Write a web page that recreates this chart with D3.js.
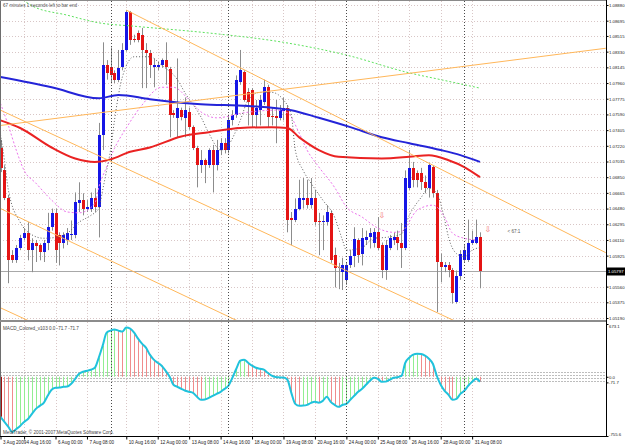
<!DOCTYPE html>
<html>
<head>
<meta charset="utf-8">
<script src="https://cdn.jsdelivr.net/npm/d3@7"></script>
<style>
  body { margin: 0; background: #fff; }
  svg { display: block; font-family: "Liberation Sans", Arial, sans-serif; }
</style>
</head>
<body>
<div id="chart"></div>
<script>
// H4 bars, 3 Aug - 31 Aug 2009 : [open, high, low, close]
const ohlc = [
  [1.0719,1.0729,1.0691,1.0696],[1.0693,1.0699,1.0658,1.0660],[1.0661,1.0664,1.0560,1.0587],[1.0593,1.0599,1.0584,1.0587],
  [1.0587,1.0605,1.0584,1.0602],[1.0602,1.0617,1.0599,1.0613],[1.0613,1.0625,1.0611,1.0619],[1.0619,1.0632,1.0587,1.0599],
  [1.0599,1.0613,1.0573,1.0608],[1.0607,1.0611,1.0585,1.0604],[1.0605,1.0607,1.0587,1.0597],[1.0597,1.0611,1.0585,1.0607],
  [1.0608,1.0643,1.0599,1.0626],[1.0626,1.0648,1.0622,1.0643],[1.0643,1.0648,1.0584,1.0599],[1.0617,1.0620,1.0581,1.0608],
  [1.0608,1.0620,1.0601,1.0617],[1.0611,1.0625,1.0605,1.0619],[1.0617,1.0634,1.0611,1.0618],[1.0617,1.0667,1.0613,1.0656],
  [1.0654,1.0679,1.0644,1.0658],[1.0658,1.0666,1.0640,1.0648],[1.0647,1.0658,1.0644,1.0650],[1.0648,1.0667,1.0644,1.0660],
  [1.0660,1.0672,1.0644,1.0650],[1.0650,1.0749,1.0614,1.0735],[1.0735,1.0844,1.0717,1.0817],[1.0817,1.0823,1.0800,1.0808],
  [1.0815,1.0838,1.0796,1.0805],[1.0808,1.0811,1.0796,1.0800],[1.0800,1.0835,1.0797,1.0814],[1.0815,1.0843,1.0811,1.0835],
  [1.0835,1.0882,1.0833,1.0880],[1.0880,1.0881,1.0841,1.0847],[1.0848,1.0853,1.0844,1.0847],[1.0855,1.0858,1.0844,1.0847],
  [1.0853,1.0861,1.0790,1.0835],[1.0835,1.0843,1.0790,1.0831],[1.0831,1.0835,1.0802,1.0817],[1.0815,1.0825,1.0791,1.0817],
  [1.0815,1.0821,1.0811,1.0817],[1.0817,1.0825,1.0814,1.0823],[1.0823,1.0844,1.0794,1.0815],[1.0812,1.0815,1.0732,1.0758],
  [1.0761,1.0764,1.0755,1.0758],[1.0755,1.0825,1.0732,1.0767],[1.0764,1.0767,1.0752,1.0756],[1.0755,1.0779,1.0732,1.0764],
  [1.0762,1.0767,1.0741,1.0744],[1.0744,1.0746,1.0717,1.0719],[1.0719,1.0722,1.0673,1.0699],[1.0699,1.0717,1.0690,1.0705],
  [1.0705,1.0707,1.0678,1.0699],[1.0699,1.0719,1.0696,1.0717],[1.0717,1.0723,1.0667,1.0699],[1.0699,1.0729,1.0693,1.0717],
  [1.0717,1.0731,1.0711,1.0725],[1.0725,1.0731,1.0713,1.0717],[1.0717,1.0758,1.0713,1.0752],[1.0752,1.0764,1.0746,1.0758],
  [1.0758,1.0805,1.0755,1.0800],[1.0797,1.0835,1.0794,1.0811],[1.0809,1.0811,1.0774,1.0776],[1.0785,1.0790,1.0746,1.0774],
  [1.0788,1.0790,1.0743,1.0758],[1.0758,1.0776,1.0743,1.0767],[1.0764,1.0782,1.0746,1.0776],[1.0774,1.0800,1.0770,1.0791],
  [1.0791,1.0794,1.0743,1.0756],[1.0757,1.0767,1.0746,1.0756],[1.0757,1.0776,1.0725,1.0755],[1.0755,1.0770,1.0752,1.0764],
  [1.0763,1.0779,1.0752,1.0767],[1.0767,1.0770,1.0620,1.0634],[1.0637,1.0644,1.0605,1.0634],[1.0634,1.0660,1.0632,1.0648],
  [1.0648,1.0682,1.0646,1.0660],[1.0658,1.0684,1.0648,1.0661],[1.0660,1.0682,1.0648,1.0652],[1.0652,1.0684,1.0648,1.0660],
  [1.0660,1.0670,1.0628,1.0632],[1.0633,1.0643,1.0593,1.0632],[1.0632,1.0640,1.0599,1.0633],[1.0632,1.0652,1.0628,1.0644],
  [1.0643,1.0646,1.0584,1.0587],[1.0593,1.0602,1.0555,1.0578],[1.0578,1.0584,1.0553,1.0579],[1.0573,1.0590,1.0552,1.0581],
  [1.0564,1.0585,1.0558,1.0581],[1.0581,1.0599,1.0578,1.0592],[1.0592,1.0626,1.0579,1.0612],[1.0611,1.0613,1.0584,1.0593],
  [1.0595,1.0625,1.0581,1.0613],[1.0611,1.0622,1.0605,1.0615],[1.0614,1.0625,1.0601,1.0619],[1.0608,1.0625,1.0602,1.0620],
  [1.0620,1.0638,1.0599,1.0602],[1.0605,1.0608,1.0566,1.0575],[1.0575,1.0611,1.0564,1.0605],[1.0602,1.0617,1.0599,1.0613],
  [1.0611,1.0620,1.0605,1.0614],[1.0615,1.0622,1.0599,1.0607],[1.0608,1.0631,1.0578,1.0602],[1.0602,1.0693,1.0599,1.0684],
  [1.0672,1.0717,1.0670,1.0696],[1.0696,1.0703,1.0673,1.0682],[1.0690,1.0693,1.0673,1.0682],[1.0690,1.0696,1.0670,1.0679],
  [1.0679,1.0687,1.0666,1.0672],[1.0672,1.0702,1.0661,1.0699],[1.0697,1.0699,1.0661,1.0666],[1.0666,1.0670,1.0526,1.0585],
  [1.0585,1.0595,1.0561,1.0579],[1.0579,1.0585,1.0573,1.0581],[1.0581,1.0585,1.0567,1.0575],[1.0575,1.0578,1.0536,1.0548],
  [1.0538,1.0575,1.0536,1.0569],[1.0569,1.0599,1.0564,1.0595],[1.0587,1.0605,1.0584,1.0599],[1.0587,1.0635,1.0585,1.0607],
  [1.0607,1.0622,1.0605,1.0611],[1.0608,1.0635,1.0606,1.0615],[1.0615,1.0620,1.0554,1.0574]
];

// MACD_Colored values, one per bar
const macd = [
  -512,-576,-640,-704,-666,-627,-576,-538,-474,-410,-371,-333,-243,-166,-141,-138,
  -128,-125,-90,-26,38,64,77,90,115,243,397,563,589,602,589,576,
  627,614,563,486,422,371,282,218,179,141,77,4,-102,-128,-154,-179,
  -192,-205,-256,-294,-290,-269,-243,-218,-192,-154,-115,-13,102,205,218,179,
  141,115,102,90,51,13,-4,-8,-10,-38,-205,-346,-371,-368,-358,-333,
  -320,-330,-307,-256,-320,-358,-384,-360,-346,-294,-243,-192,-154,-102,-51,-13,
  -26,-64,-62,-38,-13,-5,10,179,243,282,294,290,269,230,166,13,
  -102,-179,-230,-294,-282,-218,-179,-115,-64,-26,-64
];

// moving averages: [bar, price]
const blueMA = [[0,1.0803],[13,1.0791],[25,1.0778],[30,1.0782],[38,1.0777],[51,1.0771],[63,1.0769],[74,1.0764],
  [81,1.0755],[89,1.0744],[97,1.0732],[104,1.0725],[112,1.0717],[117,1.0711],[122,1.0703]];
const redMA = [[0,1.0752],[5,1.0743],[13,1.0720],[19,1.0707],[24,1.0703],[28,1.0706],[33,1.0715],[38,1.0720],
  [46,1.0733],[53,1.0738],[61,1.0743],[69,1.0744],[73,1.0743],[76,1.0732],[81,1.0717],[86,1.0709],[97,1.0707],
  [104,1.0709],[109,1.0711],[114,1.0705],[118,1.0697],[122,1.0685]];
const greenMA = [[5,1.0897],[8,1.0887],[17,1.0876],[25,1.0867],[34,1.0863],[53,1.0855],[72,1.0844],[88,1.0829],
  [104,1.0808],[112,1.0800],[122,1.0790]];
const pinkMA = [[0,1.0772],[2,1.0746],[4,1.0717],[6,1.0693],[9,1.0678],[13,1.0658],[17,1.0644],[20,1.0643],
  [24,1.0654],[25,1.0673],[27,1.0697],[29,1.0719],[32,1.0743],[36,1.0770],[41,1.0791],[44,1.0791],[48,1.0776],
  [51,1.0762],[55,1.0755],[62,1.0761],[70,1.0764],[73,1.0761],[76,1.0737],[78,1.0717],[81,1.0697],[85,1.0673],
  [88,1.0650],[92,1.0638],[96,1.0625],[100,1.0620],[102,1.0621],[106,1.0646],[110,1.0652],[113,1.0638],
  [115,1.0619],[118,1.0613],[121,1.0611]];
const blackMA = [[0,1.0735],[1,1.0705],[2,1.0670],[5,1.0632],[8,1.0617],[11,1.0613],[14,1.0614],[17,1.0619],
  [20,1.0632],[23,1.0640],[25,1.0648],[26,1.0670],[27,1.0693],[28,1.0717],[29,1.0752],[31,1.0803],[34,1.0827],
  [38,1.0827],[41,1.0817],[45,1.0800],[47,1.0784],[51,1.0756],[53,1.0737],[56,1.0717],[58,1.0723],[61,1.0752],
  [63,1.0776],[66,1.0785],[69,1.0785],[72,1.0776],[74,1.0758],[75,1.0717],[77,1.0693],[79,1.0678],[82,1.0658],
  [85,1.0638],[87,1.0611],[88,1.0599],[92,1.0602],[95,1.0613],[98,1.0614],[102,1.0618],[104,1.0640],[107,1.0661],
  [109,1.0672],[111,1.0666],[113,1.0635],[114,1.0614],[116,1.0595],[118,1.0591],[120,1.0599],[122,1.0602]];

// hand drawn trend lines (start / end as [bar, price])
const trendLines = [
  [[0,1.0746],[154,1.0837]],
  [[32,1.0882],[154,1.0596]],
  [[0,1.0764],[154,1.0433]],
  [[0,1.0648],[154,1.0310]],
  [[0,1.0531],[154,1.0202]]
];

const priceTicks = ["1.08880","1.08695","1.08515","1.08330","1.08145","1.07960","1.07775","1.07590","1.07405",
  "1.07220","1.07035","1.06850","1.06665","1.06480","1.06295","1.06110","1.05925","1.05740","1.05560","1.05375","1.05190"];
const bidLabel = "1.05797";
const timeLabels = ["3 Aug 2009","4 Aug 16:00","6 Aug 00:00","7 Aug 08:00","10 Aug 16:00","12 Aug 00:00",
  "13 Aug 08:00","14 Aug 16:00","18 Aug 00:00","19 Aug 08:00","20 Aug 16:00","24 Aug 00:00","25 Aug 08:00",
  "26 Aug 16:00","28 Aug 00:00","31 Aug 08:00"];
const timeLabelBars = [0,6,14,22,32,40,48,56,64,72,80,88,96,104,112,120];
const weekStartBars = [28,58,88,118];
const macdLevels = [60,20,-20,-60];
const macdTicks = [673.1, 0, -71.7, -755.6];
const macdTickLabels = ["673.1","0.0","-71.7","-755.6"];
const signalMarks = [[97,1.0640],[124,1.0624]];
const ratioNote = [129, 1.0621, "< 67:1"];

// layout
const width = 625, height = 447;
const plotRight = 606;
const priceTop = 1, priceBottom = 320;
const macdTop = 322, macdBottom = 436;
const font = 4.6;
const axisFont = 4.3;

const svg = d3.select("#chart")
  .append("svg")
  .attr("width", width)
  .attr("height", height);

svg.append("rect").attr("width", width).attr("height", height).attr("fill", "#ffffff");

const defs = svg.append("defs");
defs.append("clipPath").attr("id", "clipPrice")
  .append("rect").attr("x", 0).attr("y", priceTop).attr("width", plotRight).attr("height", priceBottom - priceTop);
defs.append("clipPath").attr("id", "clipMacd")
  .append("rect").attr("x", 0).attr("y", macdTop).attr("width", plotRight).attr("height", macdBottom - macdTop);

// scales
const x = d3.scaleLinear().domain([0, 122]).range([0.5, 480]);
const y = d3.scaleLinear().domain([1.0519, 1.0888]).range([318, 5]);
const ym = d3.scaleLinear().domain([-755.6, 673.1]).range([macdBottom, 324]);

const price = svg.append("g").attr("clip-path", "url(#clipPrice)");
const lower = svg.append("g").attr("clip-path", "url(#clipMacd)");

// grid
price.append("g").selectAll("line")
  .data(priceTicks)
  .join("line")
  .attr("x1", 0).attr("x2", plotRight)
  .attr("y1", d => Math.round(y(+d)) + 0.5).attr("y2", d => Math.round(y(+d)) + 0.5)
  .attr("stroke", "#d8c6c6").attr("stroke-dasharray", "1,2");

[[price, priceTop, priceBottom], [lower, macdTop, macdBottom]].forEach(([g, t, b]) => {
  g.append("g").selectAll("line")
    .data(timeLabelBars.slice(1))
    .join("line")
    .attr("x1", d => Math.round(x(d)) + 0.5).attr("x2", d => Math.round(x(d)) + 0.5)
    .attr("y1", t).attr("y2", b)
    .attr("stroke", "#d8c6c6").attr("stroke-dasharray", "1,2");
});

// week separators
svg.append("g").selectAll("line")
  .data(weekStartBars)
  .join("line")
  .attr("x1", d => Math.round(x(d)) + 0.5).attr("x2", d => Math.round(x(d)) + 0.5)
  .attr("y1", priceTop).attr("y2", macdBottom)
  .attr("stroke", "#4a4a4a").attr("stroke-dasharray", "1,2");

// current price line
const lastClose = ohlc[ohlc.length - 1][3];
const yNow = Math.round(y(lastClose)) + 0.5;
price.append("line")
  .attr("x1", 0).attr("x2", plotRight).attr("y1", yNow).attr("y2", yNow)
  .attr("stroke", "#a8a8a8");

// candles
const candles = price.append("g").selectAll("g")
  .data(ohlc)
  .join("g");

candles.append("line")
  .attr("x1", (d, i) => Math.round(x(i)) + 0.5)
  .attr("x2", (d, i) => Math.round(x(i)) + 0.5)
  .attr("y1", d => y(d[1]))
  .attr("y2", d => y(d[2]))
  .attr("stroke", "#8c8c8c");

candles.append("rect")
  .attr("x", (d, i) => Math.round(x(i)) - 1)
  .attr("width", 3)
  .attr("y", d => y(Math.max(d[0], d[3])))
  .attr("height", d => Math.max(1, Math.abs(y(d[0]) - y(d[3]))))
  .attr("fill", d => d[3] >= d[0] ? "#1616e6" : "#e41414")
  .attr("shape-rendering", "crispEdges");

// moving averages
const maLine = d3.line()
  .x(d => x(d[0]))
  .y(d => y(d[1]))
  .curve(d3.curveMonotoneX);

function drawMA(data, color, w, dash) {
  price.append("path")
    .datum(data)
    .attr("d", maLine)
    .attr("fill", "none")
    .attr("stroke", color)
    .attr("stroke-width", w)
    .attr("stroke-dasharray", dash);
}
drawMA(greenMA, "#5ee25e", 1, "2,2");
drawMA(pinkMA, "#ec74ec", 1, "2,2");
drawMA(blackMA, "#5e5e5e", 1, "1,2");
drawMA(blueMA, "#2424d8", 2, null);
drawMA(redMA, "#ea2222", 2, null);

// trend lines
price.append("g").selectAll("line")
  .data(trendLines)
  .join("line")
  .attr("x1", d => x(d[0][0])).attr("y1", d => y(d[0][1]))
  .attr("x2", d => x(d[1][0])).attr("y2", d => y(d[1][1]))
  .attr("stroke", "#ffb75a").attr("stroke-width", 1);

// signal arrows and note
price.append("g").selectAll("text")
  .data(signalMarks)
  .join("text")
  .attr("x", d => x(d[0]))
  .attr("y", d => y(d[1]) + 3)
  .attr("text-anchor", "middle")
  .attr("font-family", "DejaVu Sans")
  .attr("font-size", 8)
  .attr("fill", "#f26a6a")
  .text("\u21E9");

price.append("text")
  .attr("x", x(ratioNote[0]))
  .attr("y", y(ratioNote[1]) + 2)
  .attr("font-size", font)
  .attr("fill", "#555")
  .text(ratioNote[2]);

price.append("text")
  .attr("x", 3).attr("y", 7)
  .attr("font-size", font)
  .attr("fill", "#555")
  .text("67 minutes 1 seconds left to bar end");

// MACD pane
lower.append("g").selectAll("line")
  .data(macdLevels)
  .join("line")
  .attr("x1", 0).attr("x2", plotRight)
  .attr("y1", d => Math.round(ym(d)) + 0.5).attr("y2", d => Math.round(ym(d)) + 0.5)
  .attr("stroke", "#bdbdbd").attr("stroke-dasharray", "2,1");

lower.append("g").selectAll("line")
  .data(macd)
  .join("line")
  .attr("x1", (d, i) => Math.round(x(i)) + 0.5)
  .attr("x2", (d, i) => Math.round(x(i)) + 0.5)
  .attr("y1", ym(0))
  .attr("y2", d => ym(d))
  .attr("stroke", (d, i) => i > 0 && d > macd[i - 1] ? "#92ee92" : (i == 0 ? "#a01010" : "#f08c8c"));

lower.append("path")
  .datum(macd)
  .attr("d", d3.line().x((d, i) => x(i)).y(d => ym(d)).curve(d3.curveMonotoneX))
  .attr("fill", "none")
  .attr("stroke", "#20c2dc")
  .attr("stroke-width", 2);

lower.append("text")
  .attr("x", 3).attr("y", 330)
  .attr("font-size", font).attr("fill", "#444")
  .text("MACD_Colored_v103 0.0 -71.7 -71.7");

lower.append("text")
  .attr("x", 3).attr("y", 434)
  .attr("font-size", font).attr("fill", "#444")
  .text("MetaTrader, \u00A9 2001-2007 MetaQuotes Software Corp.");

// frame and pane separator
svg.append("line").attr("x1", 0.5).attr("x2", 0.5).attr("y1", 0).attr("y2", macdBottom).attr("stroke", "#6e6e6e");
svg.append("line").attr("x1", 0).attr("x2", plotRight).attr("y1", 0.5).attr("y2", 0.5).attr("stroke", "#8a8a8a");
svg.append("line").attr("x1", 0).attr("x2", plotRight).attr("y1", 321).attr("y2", 321)
  .attr("stroke", "#8c8c8c").attr("stroke-width", 2);
svg.append("line").attr("x1", plotRight + 0.5).attr("x2", plotRight + 0.5).attr("y1", 0).attr("y2", macdBottom)
  .attr("stroke", "#000");
svg.append("line").attr("x1", 0).attr("x2", plotRight + 1).attr("y1", macdBottom + 0.5).attr("y2", macdBottom + 0.5)
  .attr("stroke", "#000");

// price axis
svg.append("g")
  .attr("transform", `translate(${plotRight + 0.5},0)`)
  .call(d3.axisRight(y).tickValues(priceTicks.map(Number)).tickFormat((d, i) => priceTicks[i]).tickSize(2).tickPadding(0.5))
  .call(g => g.select(".domain").remove())
  .call(g => g.selectAll(".tick").filter(d => Math.abs(y(d) - yNow) < 6).select("text").remove())
  .attr("font-size", axisFont)
  .attr("font-family", "Liberation Sans, Arial, sans-serif")
  .call(g => g.selectAll("text").attr("fill", "#222"))
  .call(g => g.selectAll("line").attr("stroke", "#000"));

// bid box
svg.append("rect")
  .attr("x", plotRight + 1).attr("y", yNow - 4)
  .attr("width", width - plotRight).attr("height", 8)
  .attr("fill", "#000");
svg.append("text")
  .attr("x", plotRight + 2).attr("y", yNow + 1.6)
  .attr("font-size", axisFont).attr("fill", "#fff")
  .text(bidLabel);

// MACD axis
svg.append("g")
  .attr("transform", `translate(${plotRight + 0.5},0)`)
  .call(d3.axisRight(ym).tickValues(macdTicks).tickFormat((d, i) => macdTickLabels[i]).tickSize(2).tickPadding(0.5))
  .call(g => g.select(".domain").remove())
  .attr("font-size", axisFont)
  .attr("font-family", "Liberation Sans, Arial, sans-serif")
  .call(g => g.selectAll("text").attr("fill", "#222"))
  .call(g => g.selectAll(".tick").filter(d => d == 673.1).select("text").attr("dy", "0.9em"))
  .call(g => g.selectAll(".tick").filter(d => d == -755.6).select("text").attr("dy", "-0.2em"));

// time axis
svg.append("g")
  .attr("transform", `translate(0,${macdBottom + 0.5})`)
  .call(d3.axisBottom(x).tickValues(timeLabelBars).tickFormat((d, i) => timeLabels[i]).tickSize(3).tickPadding(1))
  .call(g => g.select(".domain").remove())
  .attr("font-size", font)
  .attr("font-family", "Liberation Sans, Arial, sans-serif")
  .call(g => g.selectAll("text").attr("text-anchor", "start").attr("dx", 2).attr("fill", "#222"))
  .call(g => g.selectAll("line").attr("stroke", "#000"));
</script>
</body>
</html>
